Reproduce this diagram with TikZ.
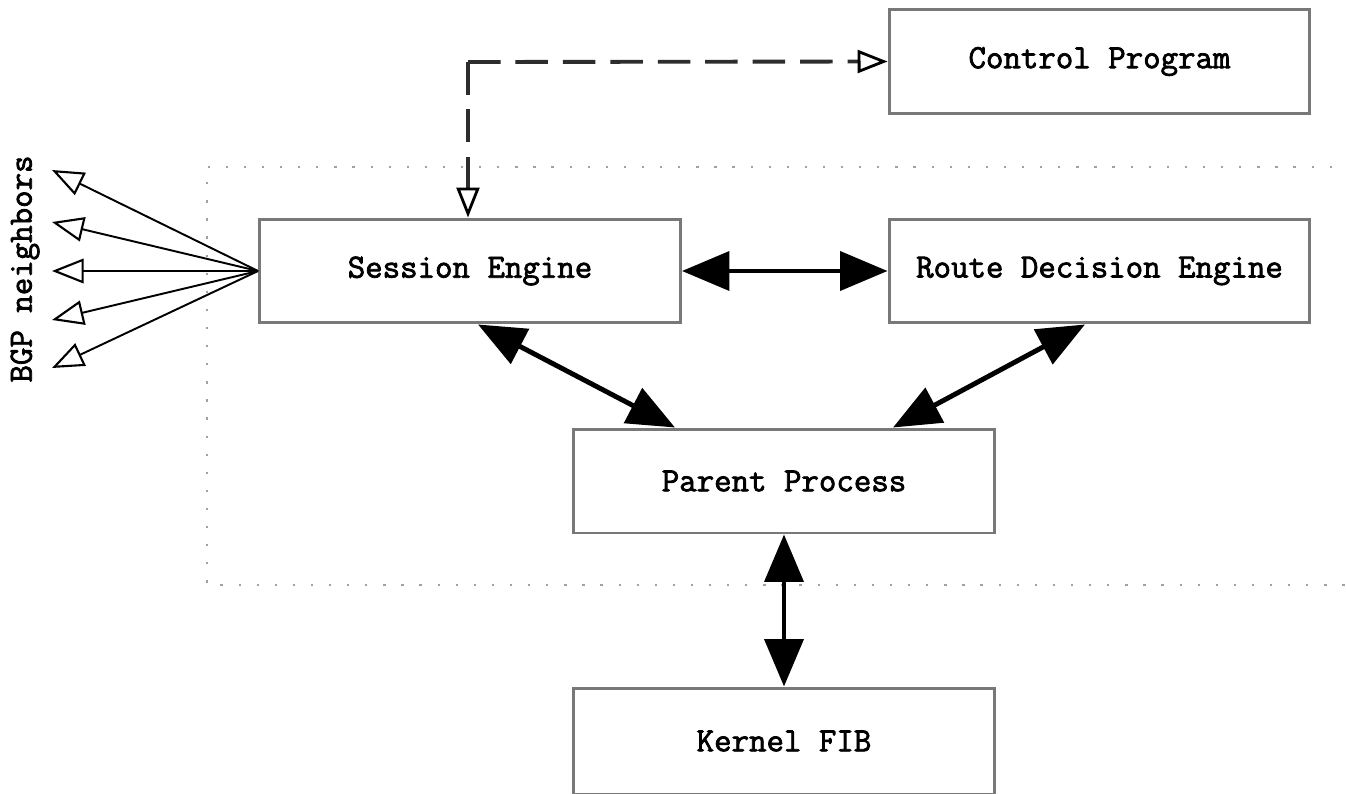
\documentclass[tikz,border=0pt]{standalone}
\usepackage{fontspec}
\newfontfamily\boxfont{Latin Modern Mono}[FakeBold=2.2]
\usetikzlibrary{arrows.meta,calc}
\definecolor{boxgray}{RGB}{120,120,120}
\definecolor{dotgray}{RGB}{160,160,160}
\definecolor{dashgray}{RGB}{45,45,45}
\begin{document}
\begin{tikzpicture}[x=0.02cm,y=-0.02cm,
  txt/.style={font=\fontsize{19.3}{23}\selectfont\boxfont},
  box/.style={txt,draw=boxgray,line width=1.7pt,minimum width=8.42cm,minimum height=2.08cm,inner sep=0pt},
  bigarrow/.style={line width=2.8pt,{Triangle[length=27pt,width=22pt]}-{Triangle[length=27pt,width=22pt]}},
  dasharrow/.style={draw=dashgray,line width=2.2pt,dash pattern=on 18.5pt off 8.5pt,
    -{Triangle[open,length=17pt,width=13pt,line width=1.6pt,color=black]}},
  bgparrow/.style={line width=1.1pt,-{Triangle[open,length=18pt,width=14pt,line width=1.2pt]}},
  region/.style={draw=dotgray,line width=1.4pt,dash pattern=on 1.3pt off 9pt}]
\useasboundingbox (0,0) rectangle (1346,794);
% dotted region
\draw[region] (1350,167) -- (207,167) -- (207,585) -- (1350,585);
% boxes
\node[box] (cp) at (1099.5,61.5) {Control Program};
\node[box] (se) at (470,271) {Session Engine};
\node[box] (rd) at (1099.5,271) {Route Decision Engine};
\node[box] (pp) at (784,481) {Parent Process};
\node[box,minimum height=2.12cm] (kf) at (784,741) {Kernel FIB};
% dashed control connection
\coordinate (corner) at (468,62);
\draw[dasharrow] (corner) -- (corner |- se.north);
\draw[dasharrow] (corner) -- (cp.west);
% thick arrows
\draw[bigarrow] (se.east) -- (rd.west);
\draw[bigarrow] ($(se.south)+(8,0)$) -- ($(pp.north)+(-109,0)$);
\draw[bigarrow] ($(rd.south)+(-14.5,0)$) -- ($(pp.north)+(109,0)$);
\draw[bigarrow] (pp.south) -- (kf.north);
% BGP neighbors
\coordinate (n1) at (52,170);
\coordinate (n2) at (52,222);
\coordinate (n3) at (52,271);
\coordinate (n4) at (52,320);
\coordinate (n5) at (52,368);
\foreach \n in {n1,n2,n3,n4,n5} \draw[bgparrow] (se.west) -- (\n);
\node[txt,rotate=90] (bgp) at (25,269) {BGP neighbors};
\end{tikzpicture}
\end{document}
